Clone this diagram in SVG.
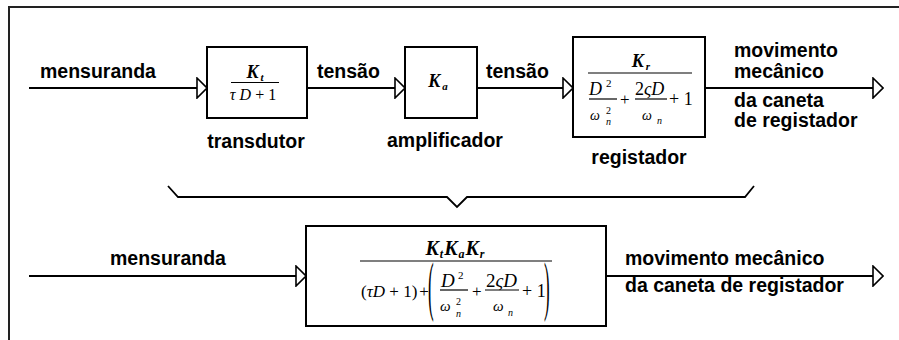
<svg xmlns="http://www.w3.org/2000/svg" width="899" height="340" viewBox="0 0 899 340">
  <style>
    .frame { stroke: #222; stroke-width: 2; fill: none; }
    .box { fill: #fff; stroke: #000; stroke-width: 2; }
    .wire { stroke: #000; stroke-width: 1.8; fill: none; }
    .bar { stroke: #000; stroke-width: 1.2; }
    .lbl { font-family: "Liberation Sans", Arial, sans-serif; font-weight: bold; font-size: 19.5px; fill: #000; }
    .m { font-family: "Liberation Serif", "Times New Roman", serif; fill: #000; }
    .it { font-style: italic; }
    .bi { font-style: italic; font-weight: bold; }
  </style>
  <defs>
    <marker id="open-arrow" markerUnits="userSpaceOnUse" markerWidth="12" markerHeight="22" refX="10" refY="10" orient="auto" viewBox="-1 -1 12 22">
      <path d="M0,0 L10,10 L0,20 Z" fill="#fff" stroke="#000" stroke-width="1.6" stroke-linejoin="miter"/>
    </marker>
  </defs>

  <rect width="899" height="340" fill="#fff"/>

  <!-- open frame: top and left edges -->
  <path class="frame" d="M9,340 V7 H899"/>

  <!-- connectors -->
  <g id="connectors">
    <line class="wire" x1="29" y1="88" x2="207" y2="88" marker-end="url(#open-arrow)"/>
    <line class="wire" x1="307" y1="88" x2="405" y2="88" marker-end="url(#open-arrow)"/>
    <line class="wire" x1="477" y1="88" x2="573" y2="88" marker-end="url(#open-arrow)"/>
    <line class="wire" x1="705" y1="88" x2="883" y2="88" marker-end="url(#open-arrow)"/>
    <line class="wire" x1="29" y1="276" x2="306" y2="276" marker-end="url(#open-arrow)"/>
    <line class="wire" x1="606" y1="276" x2="883" y2="276" marker-end="url(#open-arrow)"/>
    <!-- brace collecting the three stages -->
    <polyline class="wire" points="168,186 178,197 447,197 457,207 467,197 745,197 754,186"/>
  </g>

  <!-- signal labels -->
  <g id="labels">
    <text class="lbl" x="40" y="78">mensuranda</text>
    <text class="lbl" x="317" y="78">tensão</text>
    <text class="lbl" x="486" y="78">tensão</text>
    <text class="lbl" x="734" y="57">movimento</text>
    <text class="lbl" x="734" y="78">mecânico</text>
    <text class="lbl" x="734" y="107">da caneta</text>
    <text class="lbl" x="734" y="127">de registador</text>
    <text class="lbl" x="110" y="265">mensuranda</text>
    <text class="lbl" x="625" y="265">movimento mecânico</text>
    <text class="lbl" x="625" y="292">da caneta de registador</text>
  </g>

  <!-- transducer -->
  <g id="transdutor">
    <rect class="box" x="207" y="47" width="100" height="71"/>
    <text class="m bi" x="255" y="78" font-size="18" text-anchor="middle">K<tspan font-size="11" dy="3" dx="2">t</tspan></text>
    <line class="bar" x1="231" y1="82.5" x2="279" y2="82.5"/>
    <text class="m" x="253" y="100" font-size="16" text-anchor="middle"><tspan class="it">τ</tspan> <tspan class="it">D</tspan> + 1</text>
    <text class="lbl" x="256" y="148" text-anchor="middle">transdutor</text>
  </g>

  <!-- amplifier -->
  <g id="amplificador">
    <rect class="box" x="405" y="47" width="72" height="71"/>
    <text class="m bi" x="438" y="87" font-size="18" text-anchor="middle">K<tspan font-size="11" dy="3" dx="2">a</tspan></text>
    <text class="lbl" x="445" y="147" text-anchor="middle">amplificador</text>
  </g>

  <!-- recorder -->
  <g id="registador">
    <rect class="box" x="573" y="37" width="132" height="100"/>
    <text class="m bi" x="641" y="67" font-size="18" text-anchor="middle">K<tspan font-size="11" dy="3" dx="2">r</tspan></text>
    <line class="bar" x1="588" y1="73" x2="692" y2="73"/>
    <text class="m it" x="589" y="95" font-size="18">D</text>
    <text class="m" x="606" y="87" font-size="11">2</text>
    <line class="bar" x1="589" y1="99" x2="617" y2="99"/>
    <text class="m it" x="590" y="120" font-size="14">ω</text>
    <text class="m" x="606" y="114" font-size="10">2</text>
    <text class="m it" x="606" y="125" font-size="10">n</text>
    <text class="m" x="620" y="105" font-size="17">+</text>
    <text class="m" x="635" y="95" font-size="18">2<tspan class="it">ςD</tspan></text>
    <line class="bar" x1="635" y1="99" x2="667" y2="99"/>
    <text class="m it" x="642" y="120" font-size="14">ω</text>
    <text class="m it" x="657" y="124" font-size="10">n</text>
    <text class="m" x="669" y="105" font-size="18">+ 1</text>
    <text class="lbl" x="639" y="164" text-anchor="middle">registador</text>
  </g>

  <!-- overall transfer function -->
  <g id="sistema">
    <rect class="box" x="306" y="226" width="300" height="100"/>
    <text class="m bi" x="455" y="255" font-size="20" text-anchor="middle">K<tspan font-size="12" dy="3" dx="1">t</tspan><tspan dy="-3" dx="1">K</tspan><tspan font-size="12" dy="3" dx="1">a</tspan><tspan dy="-3" dx="1">K</tspan><tspan font-size="12" dy="3" dx="1">r</tspan></text>
    <line class="bar" x1="360" y1="261" x2="552" y2="261"/>
    <text class="m" x="361" y="297" font-size="17">(<tspan class="it">τD</tspan> + 1)<tspan dx="2">+</tspan></text>
    <text class="m" font-size="17" transform="translate(428,307.5) scale(1,3.8)">(</text>
    <text class="m it" x="441" y="287" font-size="19">D</text>
    <text class="m" x="458" y="279" font-size="11">2</text>
    <line class="bar" x1="440" y1="290" x2="468" y2="290"/>
    <text class="m it" x="440" y="311" font-size="15">ω</text>
    <text class="m" x="456" y="305" font-size="10">2</text>
    <text class="m it" x="456" y="317" font-size="10">n</text>
    <text class="m" x="472" y="297" font-size="17">+</text>
    <text class="m" x="486" y="287" font-size="19">2<tspan class="it">ςD</tspan></text>
    <line class="bar" x1="485" y1="290" x2="519" y2="290"/>
    <text class="m it" x="493" y="311" font-size="15">ω</text>
    <text class="m it" x="508" y="316" font-size="10">n</text>
    <text class="m" x="522" y="297" font-size="18">+ 1</text>
    <text class="m" font-size="17" transform="translate(544,307.5) scale(1,3.8)">)</text>
  </g>
</svg>
